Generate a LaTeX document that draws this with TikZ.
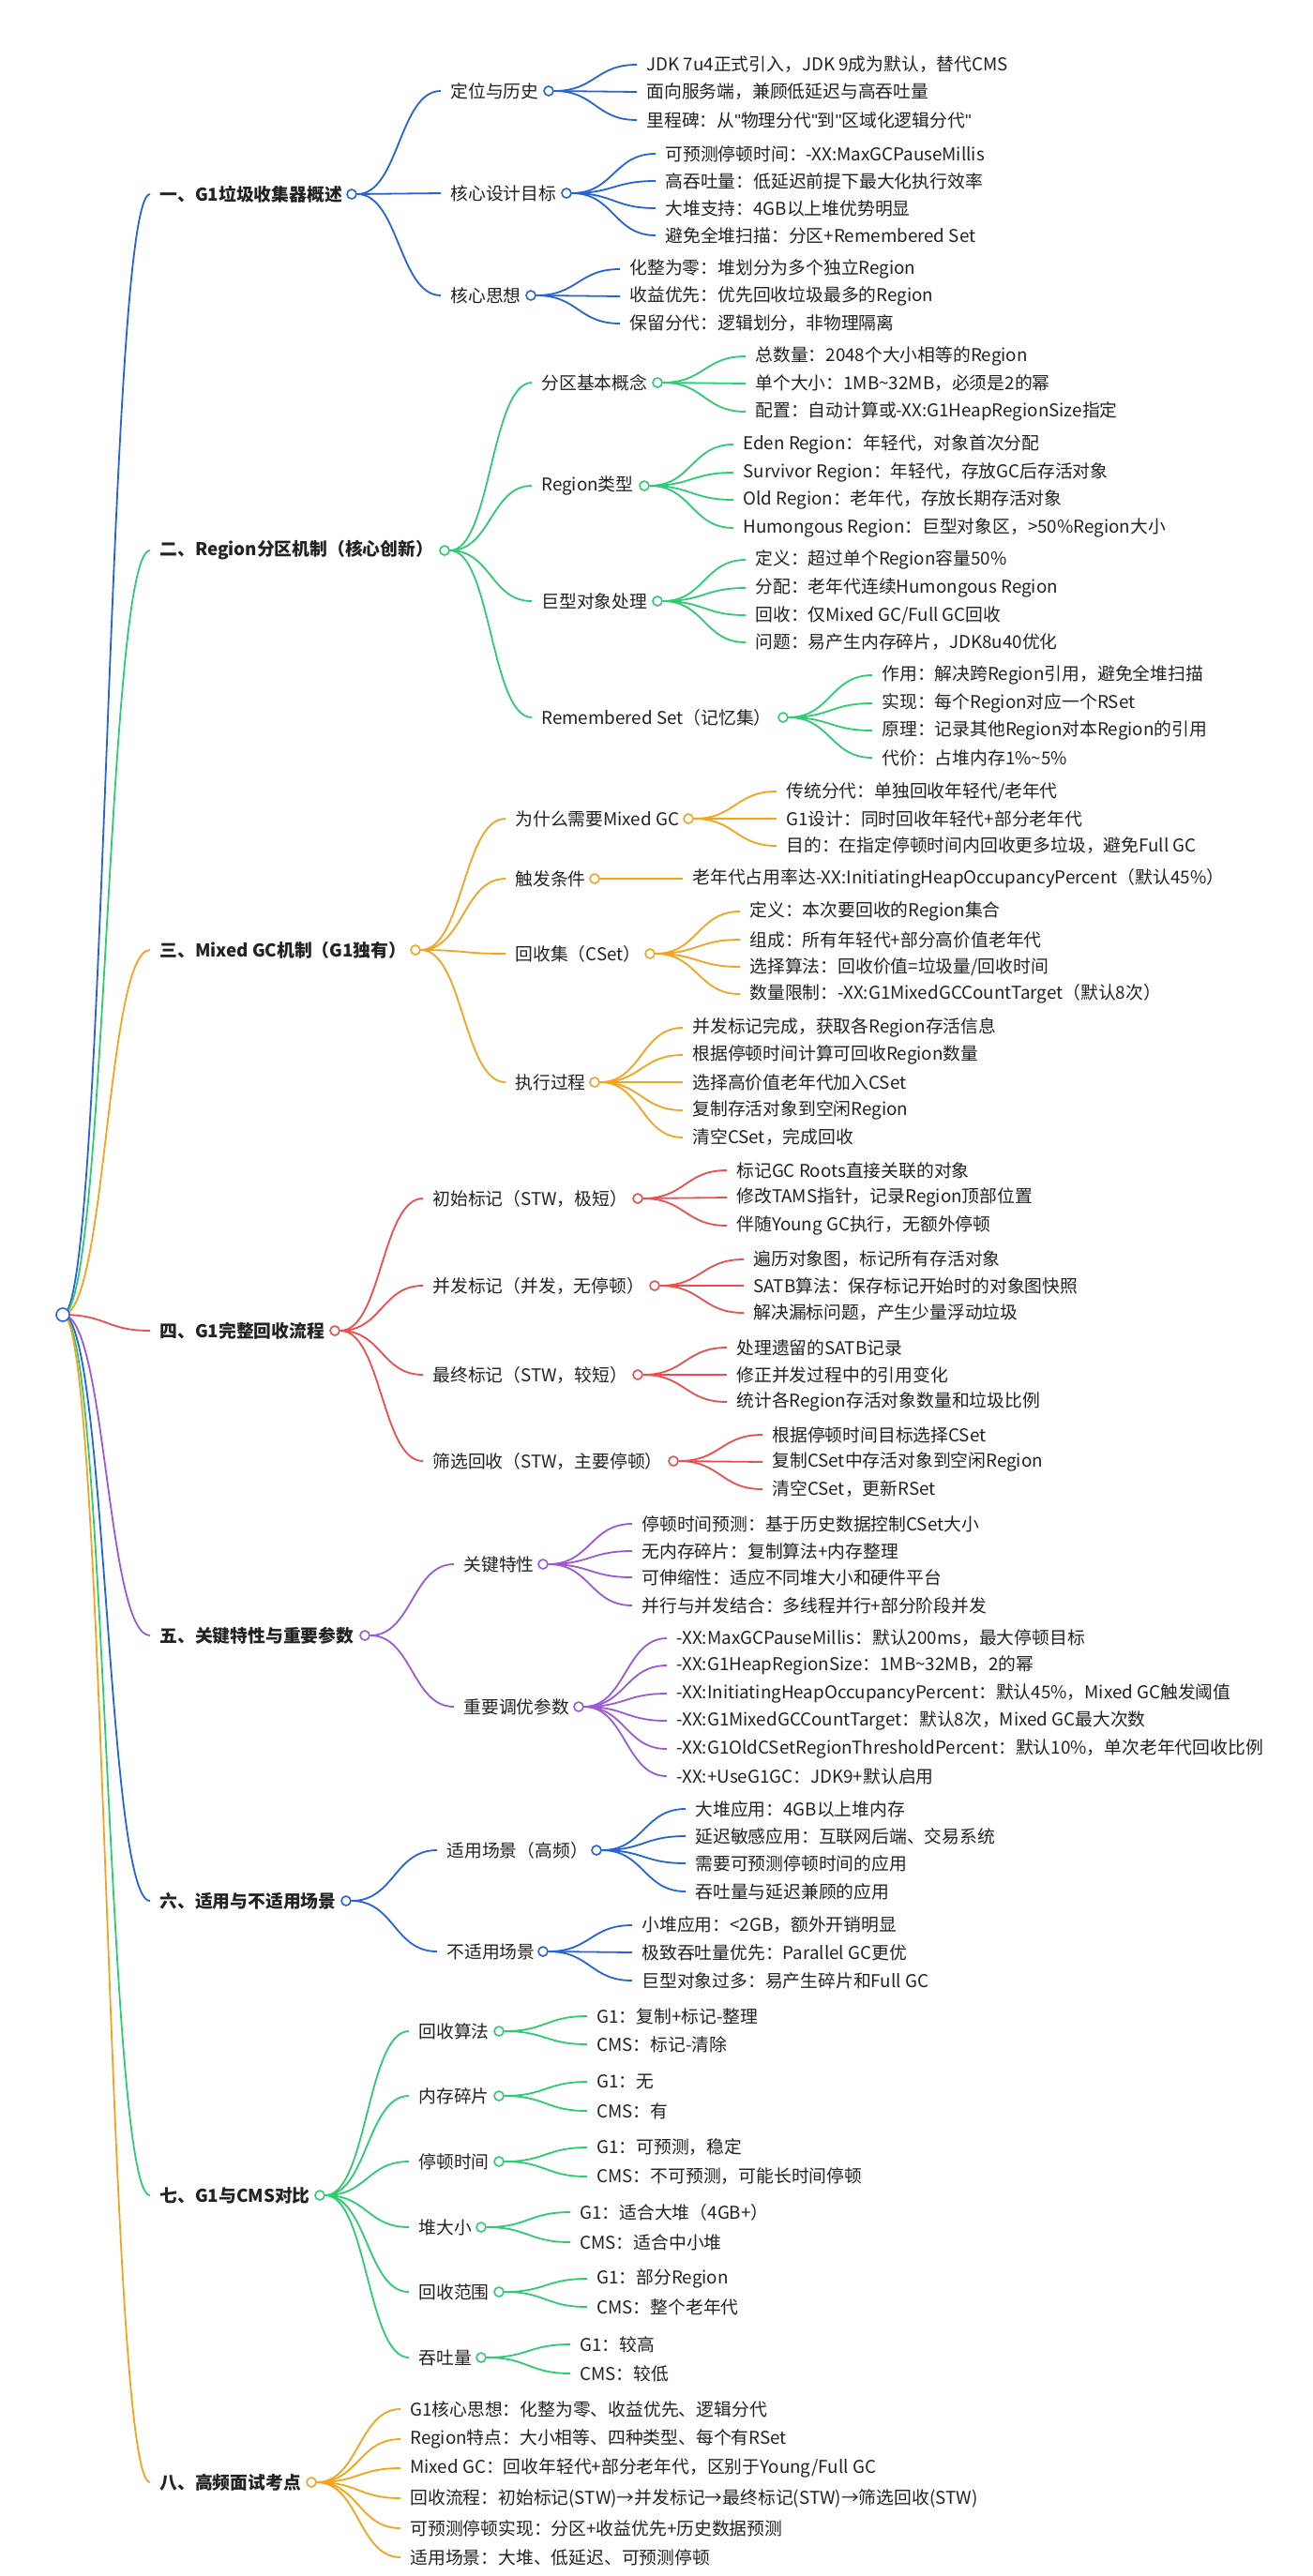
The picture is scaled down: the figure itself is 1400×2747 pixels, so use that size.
\documentclass[tikz,border=0pt]{standalone}
\usepackage{fontspec}
\setmainfont{Noto Sans CJK SC}
\newfontfamily\qfont{Liberation Sans}
\usetikzlibrary{calc,backgrounds}
\definecolor{B}{HTML}{2563D9}
\definecolor{G}{HTML}{2ECC71}
\definecolor{O}{HTML}{F5A31F}
\definecolor{R}{HTML}{EE4D4D}
\definecolor{P}{HTML}{9B59D9}
\definecolor{txt}{HTML}{222222}
\newcommand\tl{\char"007E\relax}
\newcommand\qq{{\qfont\char"0022\relax}}
\tikzset{
  lbl/.style={anchor=west,inner ysep=1pt,inner xsep=5pt,text=txt,font=\fontsize{9.4}{11}\selectfont},
  dot/.style={circle,draw=#1,fill=white,line width=0.8pt,minimum size=5pt,inner sep=0pt},
  conn/.style={draw=#1,line width=0.9pt}
}
\newcommand\T[4]{\node[lbl] (#1) at ({#2-10},#3) {#4};}
\newcommand\D[4]{\node[dot=#4] (#1) at (#2,#3) {};}
\newcommand\Lk[3]{\draw[conn=#3] let \p1=(#1.east),\p2=(#2.west) in (\p1) .. controls ({(\x1+\x2)/2},\y1) and ({(\x1+\x2)/2},\y2) .. (\p2);}
\newcommand\Rk[3]{\draw[conn=#3] let \p1=(#1.center),\p2=(#2.west) in (\p1) .. controls ({(\x1+\x2)/2},\y1) and ({(\x1+\x2)/2},\y2) .. (\p2);}
\begin{document}
\begin{tikzpicture}[x=0.5pt,y=-0.5pt]
\useasboundingbox (0,0) rectangle (1400,2747);
\node[dot=B,minimum size=7pt] (root) at (67,1402) {};
% ---------- 1
\T{s1}{170}{207}{\textbf{一、G1垃圾收集器概述}}\D{s1c}{375}{207}{B}
\T{a1}{480}{97}{定位与历史}\D{a1c}{585}{97}{B}
\T{a2}{480}{206}{核心设计目标}\D{a2c}{604}{206}{B}
\T{a3}{480}{315}{核心思想}\D{a3c}{566}{315}{B}
\T{a11}{689}{69}{JDK 7u4正式引入，JDK 9成为默认，替代CMS}
\T{a12}{689}{98}{面向服务端，兼顾低延迟与高吞吐量}
\T{a13}{689}{128}{里程碑：从\qq 物理分代\qq 到\qq 区域化逻辑分代\qq}
\T{a21}{709}{164}{可预测停顿时间：-XX:MaxGCPauseMillis}
\T{a22}{709}{193}{高吞吐量：低延迟前提下最大化执行效率}
\T{a23}{709}{222}{大堆支持：4GB以上堆优势明显}
\T{a24}{709}{251}{避免全堆扫描：分区+Remembered Set}
\T{a31}{671}{287}{化整为零：堆划分为多个独立Region}
\T{a32}{671}{316}{收益优先：优先回收垃圾最多的Region}
\T{a33}{671}{345}{保留分代：逻辑划分，非物理隔离}
% ---------- 2
\T{s2}{170}{587}{\textbf{二、Region分区机制（核心创新）}}\D{s2c}{474}{587}{G}
\T{b1}{577}{408}{分区基本概念}\D{b1c}{701}{408}{G}
\T{b2}{577}{518}{Region类型}\D{b2c}{687}{518}{G}
\T{b3}{577}{641}{巨型对象处理}\D{b3c}{701}{641}{G}
\T{b4}{577}{765}{Remembered Set（记忆集）}\D{b4c}{835}{765}{G}
\T{b11}{805}{380}{总数量：2048个大小相等的Region}
\T{b12}{805}{409}{单个大小：1MB\tl 32MB，必须是2的幂}
\T{b13}{805}{439}{配置：自动计算或-XX:G1HeapRegionSize指定}
\T{b21}{792}{474}{Eden Region：年轻代，对象首次分配}
\T{b22}{792}{504}{Survivor Region：年轻代，存放GC后存活对象}
\T{b23}{792}{533}{Old Region：老年代，存放长期存活对象}
\T{b24}{792}{563}{Humongous Region：巨型对象区，>50\%Region大小}
\T{b31}{805}{597}{定义：超过单个Region容量50\%}
\T{b32}{805}{627}{分配：老年代连续Humongous Region}
\T{b33}{805}{656}{回收：仅Mixed GC/Full GC回收}
\T{b34}{805}{685}{问题：易产生内存碎片，JDK8u40优化}
\T{b41}{940}{720}{作用：解决跨Region引用，避免全堆扫描}
\T{b42}{940}{750}{实现：每个Region对应一个RSet}
\T{b43}{940}{779}{原理：记录其他Region对本Region的引用}
\T{b44}{940}{808}{代价：占堆内存1\%\tl 5\%}
% ---------- 3
\T{s3}{170}{1013}{\textbf{三、Mixed GC机制（G1独有）}}\D{s3c}{443}{1013}{O}
\T{c1}{549}{873}{为什么需要Mixed GC}\D{c1c}{734}{873}{O}
\T{c2}{549}{937}{触发条件}\D{c2c}{634}{937}{O}
\T{c3}{549}{1017}{回收集（CSet）}\D{c3c}{693}{1017}{O}
\T{c4}{549}{1154}{执行过程}\D{c4c}{634}{1154}{O}
\T{c11}{838}{844}{传统分代：单独回收年轻代/老年代}
\T{c12}{838}{873}{G1设计：同时回收年轻代+部分老年代}
\T{c13}{838}{902}{目的：在指定停顿时间内回收更多垃圾，避免Full GC}
\T{c21}{738}{937}{老年代占用率达-XX:InitiatingHeapOccupancyPercent（默认45\%）}
\T{c31}{799}{972}{定义：本次要回收的Region集合}
\T{c32}{799}{1002}{组成：所有年轻代+部分高价值老年代}
\T{c33}{799}{1031}{选择算法：回收价值=垃圾量/回收时间}
\T{c34}{799}{1060}{数量限制：-XX:G1MixedGCCountTarget（默认8次）}
\T{c41}{738}{1096}{并发标记完成，获取各Region存活信息}
\T{c42}{738}{1125}{根据停顿时间计算可回收Region数量}
\T{c43}{738}{1154}{选择高价值老年代加入CSet}
\T{c44}{738}{1184}{复制存活对象到空闲Region}
\T{c45}{738}{1213}{清空CSet，完成回收}
% ---------- 4
\T{s4}{170}{1419}{\textbf{四、G1完整回收流程}}\D{s4c}{357}{1419}{R}
\T{d1}{461}{1278}{初始标记（STW，极短）}\D{d1c}{680}{1278}{R}
\T{d2}{461}{1371}{并发标记（并发，无停顿）}\D{d2c}{698}{1371}{R}
\T{d3}{461}{1466}{最终标记（STW，较短）}\D{d3c}{680}{1466}{R}
\T{d4}{461}{1558}{筛选回收（STW，主要停顿）}\D{d4c}{718}{1558}{R}
\T{d11}{785}{1248}{标记GC Roots直接关联的对象}
\T{d12}{785}{1277}{修改TAMS指针，记录Region顶部位置}
\T{d13}{785}{1307}{伴随Young GC执行，无额外停顿}
\T{d21}{803}{1343}{遍历对象图，标记所有存活对象}
\T{d22}{803}{1371}{SATB算法：保存标记开始时的对象图快照}
\T{d23}{803}{1400}{解决漏标问题，产生少量浮动垃圾}
\T{d31}{785}{1437}{处理遗留的SATB记录}
\T{d32}{785}{1466}{修正并发过程中的引用变化}
\T{d33}{785}{1495}{统计各Region存活对象数量和垃圾比例}
\T{d41}{823}{1530}{根据停顿时间目标选择CSet}
\T{d42}{823}{1559}{复制CSet中存活对象到空闲Region}
\T{d43}{823}{1588}{清空CSet，更新RSet}
% ---------- 5
\T{s5}{170}{1744}{\textbf{五、关键特性与重要参数}}\D{s5c}{389}{1744}{P}
\T{e1}{494}{1668}{关键特性}\D{e1c}{579}{1668}{P}
\T{e2}{494}{1820}{重要调优参数}\D{e2c}{617}{1820}{P}
\T{e11}{684}{1625}{停顿时间预测：基于历史数据控制CSet大小}
\T{e12}{684}{1654}{无内存碎片：复制算法+内存整理}
\T{e13}{684}{1682}{可伸缩性：适应不同堆大小和硬件平台}
\T{e14}{684}{1712}{并行与并发结合：多线程并行+部分阶段并发}
\T{e21}{721}{1747}{-XX:MaxGCPauseMillis：默认200ms，最大停顿目标}
\T{e22}{721}{1776}{-XX:G1HeapRegionSize：1MB\tl 32MB，2的幂}
\T{e23}{721}{1806}{-XX:InitiatingHeapOccupancyPercent：默认45\%，Mixed GC触发阈值}
\T{e24}{721}{1835}{-XX:G1MixedGCCountTarget：默认8次，Mixed GC最大次数}
\T{e25}{721}{1865}{-XX:G1OldCSetRegionThresholdPercent：默认10\%，单次老年代回收比例}
\T{e26}{721}{1894}{-XX:+UseG1GC：JDK9+默认启用}
% ---------- 6
\T{s6}{170}{2027}{\textbf{六、适用与不适用场景}}\D{s6c}{369}{2027}{B}
\T{f1}{476}{1973}{适用场景（高频）}\D{f1c}{636}{1973}{B}
\T{f2}{476}{2081}{不适用场景}\D{f2c}{579}{2081}{B}
\T{f11}{741}{1929}{大堆应用：4GB以上堆内存}
\T{f12}{741}{1958}{延迟敏感应用：互联网后端、交易系统}
\T{f13}{741}{1987}{需要可预测停顿时间的应用}
\T{f14}{741}{2017}{吞吐量与延迟兼顾的应用}
\T{f21}{684}{2053}{小堆应用：<2GB，额外开销明显}
\T{f22}{684}{2082}{极致吞吐量优先：Parallel GC更优}
\T{f23}{684}{2112}{巨型对象过多：易产生碎片和Full GC}
% ---------- 7
\T{s7}{170}{2341}{\textbf{七、G1与CMS对比}}\D{s7c}{341}{2341}{G}
\T{g1}{446}{2166}{回收算法}\D{g1c}{532}{2166}{G}
\T{g2}{446}{2235}{内存碎片}\D{g2c}{532}{2235}{G}
\T{g3}{446}{2305}{停顿时间}\D{g3c}{532}{2305}{G}
\T{g4}{446}{2375}{堆大小}\D{g4c}{513}{2375}{G}
\T{g5}{446}{2444}{回收范围}\D{g5c}{532}{2444}{G}
\T{g6}{446}{2514}{吞吐量}\D{g6c}{513}{2514}{G}
\T{g11}{636}{2150}{G1：复制+标记-整理}
\T{g12}{636}{2180}{CMS：标记-清除}
\T{g21}{636}{2220}{G1：无}
\T{g22}{636}{2251}{CMS：有}
\T{g31}{636}{2290}{G1：可预测，稳定}
\T{g32}{636}{2321}{CMS：不可预测，可能长时间停顿}
\T{g41}{618}{2359}{G1：适合大堆（4GB+）}
\T{g42}{618}{2391}{CMS：适合中小堆}
\T{g51}{636}{2430}{G1：部分Region}
\T{g52}{636}{2460}{CMS：整个老年代}
\T{g61}{618}{2500}{G1：较高}
\T{g62}{618}{2531}{CMS：较低}
% ---------- 8
\T{s8}{170}{2647}{\textbf{八、高频面试考点}}\D{s8c}{332}{2647}{O}
\T{h1}{437}{2569}{G1核心思想：化整为零、收益优先、逻辑分代}
\T{h2}{437}{2601}{Region特点：大小相等、四种类型、每个有RSet}
\T{h3}{437}{2632}{Mixed GC：回收年轻代+部分老年代，区别于Young/Full GC}
\T{h4}{437}{2664}{回收流程：初始标记(STW)→并发标记→最终标记(STW)→筛选回收(STW)}
\T{h5}{437}{2696}{可预测停顿实现：分区+收益优先+历史数据预测}
\T{h6}{437}{2727}{适用场景：大堆、低延迟、可预测停顿}
\begin{scope}[on background layer]
\fill[white] (0,0) rectangle (1400,2747);
\Rk{root}{s1}{B}\Rk{root}{s2}{G}\Rk{root}{s3}{O}\Rk{root}{s4}{R}
\Rk{root}{s5}{P}\Rk{root}{s6}{B}\Rk{root}{s7}{G}\Rk{root}{s8}{O}
\foreach \t in {a1,a2,a3}{\Lk{s1c}{\t}{B}}
\foreach \t in {a11,a12,a13}{\Lk{a1c}{\t}{B}}
\foreach \t in {a21,a22,a23,a24}{\Lk{a2c}{\t}{B}}
\foreach \t in {a31,a32,a33}{\Lk{a3c}{\t}{B}}
\foreach \t in {b1,b2,b3,b4}{\Lk{s2c}{\t}{G}}
\foreach \t in {b11,b12,b13}{\Lk{b1c}{\t}{G}}
\foreach \t in {b21,b22,b23,b24}{\Lk{b2c}{\t}{G}}
\foreach \t in {b31,b32,b33,b34}{\Lk{b3c}{\t}{G}}
\foreach \t in {b41,b42,b43,b44}{\Lk{b4c}{\t}{G}}
\foreach \t in {c1,c2,c3,c4}{\Lk{s3c}{\t}{O}}
\foreach \t in {c11,c12,c13}{\Lk{c1c}{\t}{O}}
\Lk{c2c}{c21}{O}
\foreach \t in {c31,c32,c33,c34}{\Lk{c3c}{\t}{O}}
\foreach \t in {c41,c42,c43,c44,c45}{\Lk{c4c}{\t}{O}}
\foreach \t in {d1,d2,d3,d4}{\Lk{s4c}{\t}{R}}
\foreach \t in {d11,d12,d13}{\Lk{d1c}{\t}{R}}
\foreach \t in {d21,d22,d23}{\Lk{d2c}{\t}{R}}
\foreach \t in {d31,d32,d33}{\Lk{d3c}{\t}{R}}
\foreach \t in {d41,d42,d43}{\Lk{d4c}{\t}{R}}
\foreach \t in {e1,e2}{\Lk{s5c}{\t}{P}}
\foreach \t in {e11,e12,e13,e14}{\Lk{e1c}{\t}{P}}
\foreach \t in {e21,e22,e23,e24,e25,e26}{\Lk{e2c}{\t}{P}}
\foreach \t in {f1,f2}{\Lk{s6c}{\t}{B}}
\foreach \t in {f11,f12,f13,f14}{\Lk{f1c}{\t}{B}}
\foreach \t in {f21,f22,f23}{\Lk{f2c}{\t}{B}}
\foreach \t in {g1,g2,g3,g4,g5,g6}{\Lk{s7c}{\t}{G}}
\foreach \t in {g11,g12}{\Lk{g1c}{\t}{G}}
\foreach \t in {g21,g22}{\Lk{g2c}{\t}{G}}
\foreach \t in {g31,g32}{\Lk{g3c}{\t}{G}}
\foreach \t in {g41,g42}{\Lk{g4c}{\t}{G}}
\foreach \t in {g51,g52}{\Lk{g5c}{\t}{G}}
\foreach \t in {g61,g62}{\Lk{g6c}{\t}{G}}
\foreach \t in {h1,h2,h3,h4,h5,h6}{\Lk{s8c}{\t}{O}}
\end{scope}
\end{tikzpicture}
\end{document}
